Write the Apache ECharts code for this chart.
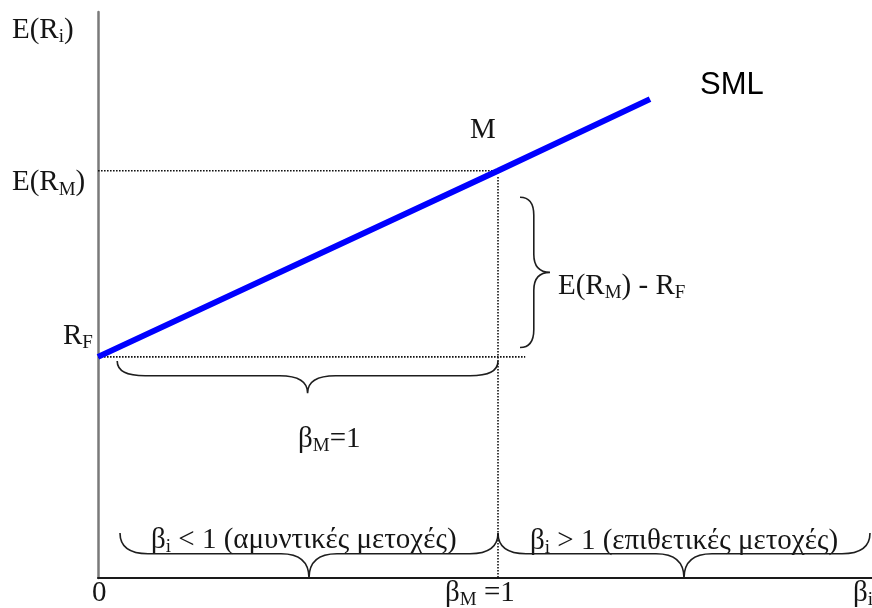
<!DOCTYPE html>
<html><head><meta charset="utf-8">
<script src="https://cdn.jsdelivr.net/npm/echarts@6/dist/echarts.min.js"></script>
<style>html,body{margin:0;padding:0;background:#fff}#c{width:872px;height:608px}</style>
</head><body><div id="c"></div>
<script>
// ---------- data ----------
const betaMin = 0, betaMax = 1.935;
const retMin = 0, retMax = 13.9;
const smlBeta = [0, 1, 1.38];
const smlReturn = [5.43, 10, 11.76];
// dotted guide lines as [beta, return] pairs
const guideMarketH = [[0, 10], [1, 10]];
const guideMarketV = [[1, 9.85], [1, 0]];
const guideRiskFree = [[0, 5.43], [1.068, 5.43]];
// braces: start, end and tip points in [beta, return]
const braceStart = [[1.055, 9.35], [0.048, 5.33], [0.055, 1.105], [1.0, 1.105]];
const braceEnd   = [[1.055, 5.66], [1.0, 5.33], [1.0, 1.105], [1.93, 1.105]];
const braceTip   = [[1.13, 7.505], [0.524, 4.54], [0.5275, 0], [1.465, 0]];
const xTickValues = [0, 1];
const xTickLabels = ['0', 'β_M =1'];
const xAxisName = 'β_i';
const yAxisName = 'E(R_i)';
const annotTexts = ['E(R_M)', 'R_F', 'M', 'E(R_M) - R_F', 'β_M=1',
  'β_i < 1 (αμυντικές μετοχές)', 'β_i > 1 (επιθετικές μετοχές)'];
const seriesName = 'SML';

// ---------- chart ----------
const SERIF = '"Liberation Serif","Times New Roman",serif';
const TXT = '#151515';
function toRich(s) {
  let out = '';
  const parts = s.split(/_(.)/);
  for (let i = 0; i < parts.length; i++) {
    if (!parts[i]) continue;
    out += (i % 2 === 1) ? '{s|' + parts[i] + '}' : '{m|' + parts[i] + '}';
  }
  return out;
}
const richStyle = {
  m: { fontFamily: SERIF, fontSize: 29, lineHeight: 34, fill: TXT },
  s: { fontFamily: SERIF, fontSize: 19, lineHeight: 23, verticalAlign: 'bottom', fill: TXT }
};

function braceRender(params, api) {
  const p1 = api.coord([api.value(0), api.value(1)]);
  const p2 = api.coord([api.value(2), api.value(3)]);
  const t = api.coord([api.value(4), api.value(5)]);
  const m = [(p1[0] + p2[0]) / 2, (p1[1] + p2[1]) / 2];
  let ux = p2[0] - p1[0], uy = p2[1] - p1[1];
  const L = Math.hypot(ux, uy); ux /= L; uy /= L;
  let nx = t[0] - m[0], ny = t[1] - m[1];
  const d = Math.hypot(nx, ny); nx /= d; ny /= d;
  const h = d * 0.46, r = Math.min(28, L * 0.12);
  const pt = (b, a, k) => (b[0] + ux * a + nx * k).toFixed(2) + ' ' + (b[1] + uy * a + ny * k).toFixed(2);
  const path = 'M' + pt(p1, 0, 0) +
    ' Q' + pt(p1, 0, h) + ' ' + pt(p1, r, h) +
    ' L' + pt(m, -r, h) +
    ' Q' + pt(m, 0, h) + ' ' + pt(m, 0, d) +
    ' Q' + pt(m, 0, h) + ' ' + pt(m, r, h) +
    ' L' + pt(p2, -r, h) +
    ' Q' + pt(p2, 0, h) + ' ' + pt(p2, 0, 0);
  return { type: 'path', shape: { pathData: path },
    style: { stroke: '#1e1e1e', fill: 'none', lineWidth: 1.6 } };
}

const dotted = { color: '#111', width: 1.6, type: [1.6, 1.4] };
const chart = echarts.init(document.getElementById('c'), null, { renderer: 'canvas' });
const option = {
  animation: false,
  backgroundColor: '#fff',
  grid: { left: 98, right: 0, top: 12, bottom: 30 },
  xAxis: { type: 'value', min: betaMin, max: betaMax,
    axisLine: { show: true, lineStyle: { color: '#1a1a1a', width: 2 } },
    axisTick: { show: false }, axisLabel: { show: false }, splitLine: { show: false } },
  yAxis: { type: 'value', min: retMin, max: retMax,
    axisLine: { show: true, lineStyle: { color: '#7a7a7a', width: 2.5 } },
    axisTick: { show: false }, axisLabel: { show: false }, splitLine: { show: false } },
  series: [
    { type: 'line', data: guideMarketH, showSymbol: false, lineStyle: dotted, silent: true },
    { type: 'line', data: guideMarketV, showSymbol: false, lineStyle: dotted, silent: true },
    { type: 'line', data: guideRiskFree, showSymbol: false, lineStyle: dotted, silent: true },
    { name: seriesName, type: 'line', data: smlBeta.map((b, i) => [b, smlReturn[i]]),
      showSymbol: false, lineStyle: { color: '#0000ff', width: 6, cap: 'butt' }, z: 5 },
    { type: 'custom', renderItem: braceRender, silent: true, clip: false,
      dimensions: ['b1', 'r1', 'b2', 'r2', 'bt', 'rt'],
      encode: { x: [0, 2, 4], y: [1, 3, 5] },
      data: braceStart.map((s, i) => [s[0], s[1], braceEnd[i][0], braceEnd[i][1], braceTip[i][0], braceTip[i][1]]) }
  ]
};
chart.setOption(option);

// ---------- text annotations ----------
const px = (b, r) => chart.convertToPixel({ xAxisIndex: 0, yAxisIndex: 0 }, [b, r]);
function txt(s, x, y) {
  return { type: 'text', x: x, y: y, silent: true,
    style: { text: toRich(s), rich: richStyle, fill: TXT, align: 'left', verticalAlign: 'middle',
      fontFamily: SERIF, fontSize: 29 } };
}
const o = px(0, 0), mk = px(1, 10), rf = px(0, 5.43);
const g = [
  txt(yAxisName, 12, 30),
  txt(annotTexts[0], 12, mk[1] + 12),
  txt(annotTexts[1], 63, rf[1] - 21),
  txt(annotTexts[2], mk[0] - 28, mk[1] - 40),
  txt(annotTexts[3], 558, 286),
  txt(annotTexts[4], 298, 439),
  txt(annotTexts[5], 151, 540),
  txt(annotTexts[6], 530, 541),
  txt(xTickLabels[0], px(xTickValues[0], 0)[0] - 6, o[1] + 15),
  txt(xTickLabels[1], px(xTickValues[1], 0)[0] - 53, o[1] + 15),
  txt(xAxisName, 853, o[1] + 15),
  { type: 'text', x: 700, y: 85, silent: true,
    style: { text: seriesName, fill: '#000', fontFamily: '"Liberation Sans",Arial,sans-serif',
      fontSize: 31, verticalAlign: 'middle', align: 'left' } }
];
chart.setOption({ graphic: g });
</script></body></html>
